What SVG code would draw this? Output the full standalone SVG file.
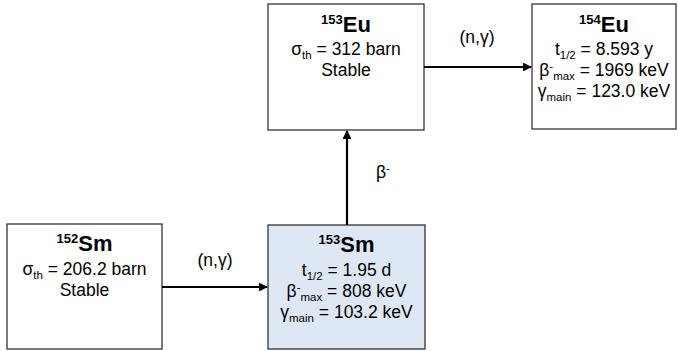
<svg xmlns="http://www.w3.org/2000/svg" width="678" height="351" viewBox="0 0 678 351">
<style>
.box{fill:#fff;stroke:#333;stroke-width:1.3}
.hl{fill:#dee8f4}
text{font-family:"Liberation Sans",Arial,sans-serif;fill:#000;text-anchor:middle}
.t{font-size:22px;font-weight:bold}
.t .sup{font-size:13px}
.b{font-size:17.5px}
.sup,.sub{font-size:11.5px}
.conn line{stroke:#000;stroke-width:2.2}
</style>
<defs>
<marker id="ah" viewBox="0 0 10 10" refX="9" refY="5" markerWidth="4" markerHeight="4" orient="auto" markerUnits="strokeWidth">
<path d="M0,0 L10,5 L0,10 z" fill="#000"/>
</marker>
</defs>
<rect width="678" height="351" fill="#fff"/>
<g id="sm152">
<rect class="box" x="7" y="224" width="155" height="125"/>
<text class="t" x="84.5" y="251"><tspan class="sup" dy="-8">152</tspan><tspan dy="8">Sm</tspan></text>
<text class="b" x="84.5" y="275">σ<tspan class="sub" dy="4">th</tspan><tspan dy="-4"> = 206.2 barn</tspan></text>
<text class="b" x="84.5" y="296">Stable</text>
</g>
<g id="sm153">
<rect class="box hl" x="268" y="225" width="157" height="124"/>
<text class="t" x="346.5" y="252"><tspan class="sup" dy="-8">153</tspan><tspan dy="8">Sm</tspan></text>
<text class="b" x="346.5" y="276">t<tspan class="sub" dy="4">1/2</tspan><tspan dy="-4"> = 1.95 d</tspan></text>
<text class="b" x="346.5" y="297">β<tspan class="sup" dy="-6">-</tspan><tspan class="sub" dy="10">max</tspan><tspan dy="-4"> = 808 keV</tspan></text>
<text class="b" x="346.5" y="318">γ<tspan class="sub" dy="4">main</tspan><tspan dy="-4"> = 103.2 keV</tspan></text>
</g>
<g id="eu153">
<rect class="box" x="268" y="4" width="156" height="126"/>
<text class="t" x="346" y="32"><tspan class="sup" dy="-8">153</tspan><tspan dy="8">Eu</tspan></text>
<text class="b" x="346" y="55">σ<tspan class="sub" dy="4">th</tspan><tspan dy="-4"> = 312 barn</tspan></text>
<text class="b" x="346" y="76">Stable</text>
</g>
<g id="eu154">
<rect class="box" x="532" y="4" width="144" height="125"/>
<text class="t" x="604" y="32"><tspan class="sup" dy="-8">154</tspan><tspan dy="8">Eu</tspan></text>
<text class="b" x="604" y="55">t<tspan class="sub" dy="4">1/2</tspan><tspan dy="-4"> = 8.593 y</tspan></text>
<text class="b" x="604" y="76">β<tspan class="sup" dy="-6">-</tspan><tspan class="sub" dy="10">max</tspan><tspan dy="-4"> = 1969 keV</tspan></text>
<text class="b" x="604" y="97">γ<tspan class="sub" dy="4">main</tspan><tspan dy="-4"> = 123.0 keV</tspan></text>
</g>
<g class="conn" id="connectors">
<line x1="162" y1="287" x2="267" y2="287" marker-end="url(#ah)"/>
<line x1="347" y1="225" x2="347" y2="131" marker-end="url(#ah)"/>
<line x1="424" y1="67" x2="531" y2="67" marker-end="url(#ah)"/>
<text class="b" x="215" y="266">(n,γ)</text>
<text class="b" x="477" y="43">(n,γ)</text>
<text class="b" x="383" y="178">β<tspan class="sup" dy="-6">-</tspan></text>
</g>
</svg>
